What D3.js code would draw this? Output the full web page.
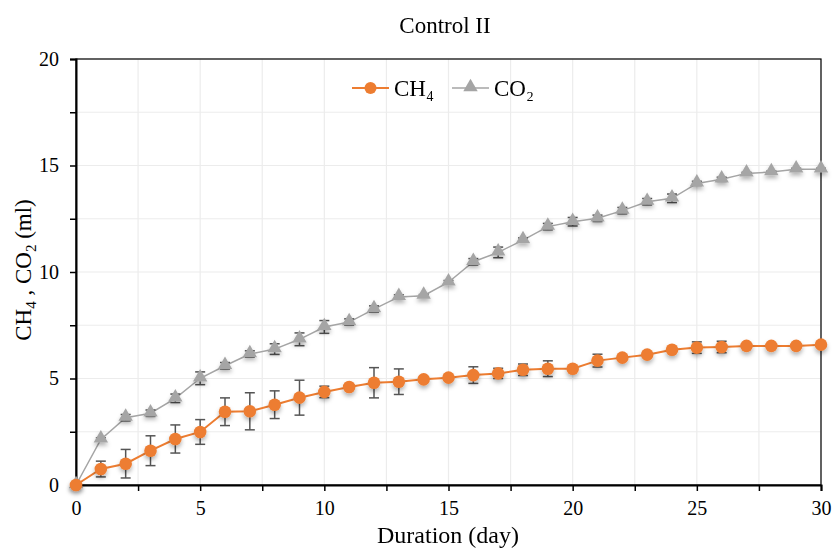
<!DOCTYPE html>
<html>
<head>
<meta charset="utf-8">
<script src="https://cdn.jsdelivr.net/npm/d3@7"></script>
<style>
  body { margin: 0; background: #fff; }
</style>
</head>
<body>
<svg id="chart" width="833" height="551"></svg>
<script>
const days = d3.range(0, 31);
const ch4 = [0, 0.75, 1.0, 1.61, 2.16, 2.49, 3.44, 3.46, 3.77, 4.1, 4.37, 4.6, 4.8, 4.85, 4.96, 5.04,
             5.16, 5.24, 5.41, 5.46, 5.46, 5.84, 5.98, 6.12, 6.35, 6.45, 6.48, 6.53, 6.53, 6.53, 6.59];
const ch4Err = [0, 0.37, 0.67, 0.7, 0.66, 0.58, 0.65, 0.87, 0.65, 0.82, 0.27, 0.1, 0.71, 0.6, 0, 0,
                0.39, 0.24, 0.27, 0.37, 0, 0.3, 0, 0, 0, 0.27, 0.27, 0, 0, 0, 0];
const co2 = [0, 2.14, 3.16, 3.37, 4.07, 5.01, 5.6, 6.15, 6.38, 6.84, 7.42, 7.65, 8.26, 8.83, 8.89, 9.52,
             10.48, 10.92, 11.5, 12.13, 12.36, 12.52, 12.88, 13.3, 13.46, 14.16, 14.35, 14.63, 14.69, 14.82, 14.82];
const co2Err = [0, 0.08, 0.15, 0.15, 0.2, 0.3, 0.15, 0.15, 0.25, 0.3, 0.3, 0.15, 0.15, 0.1, 0.05, 0.08,
                0.15, 0.25, 0.1, 0.15, 0.2, 0.15, 0.15, 0.15, 0.2, 0.1, 0.1, 0.05, 0.05, 0.05, 0.05];
const xTicks = [0, 5, 10, 15, 20, 25, 30];
const yTicks = [0, 5, 10, 15, 20];
const gridSteps = d3.range(0, 20.01, 2.5);
const xGridSteps = d3.range(0, 30.01, 2.5);

const FONT = "Liberation Serif";

const margin = {top: 59, right: 12, bottom: 66, left: 76};
const width = 821 - margin.left;
const height = 485 - margin.top;

const svg = d3.select("#chart");

// drop shadow for markers (excel-ish)
const defs = svg.append("defs");
const filt = defs.append("filter").attr("id", "shadow")
    .attr("x", "-50%").attr("y", "-50%").attr("width", "200%").attr("height", "250%");
filt.append("feDropShadow").attr("dx", 0).attr("dy", 3).attr("stdDeviation", 2)
    .attr("flood-color", "#000").attr("flood-opacity", 0.3);

const g = svg.append("g").attr("transform", `translate(${margin.left},${margin.top})`);

const x = d3.scaleLinear().domain([0, 30]).range([0, width]);
const y = d3.scaleLinear().domain([0, 20]).range([height, 0]);

// gridlines
g.append("g").selectAll("line.h").data(gridSteps).join("line")
    .attr("x1", 0).attr("x2", width)
    .attr("y1", d => y(d)).attr("y2", d => y(d))
    .attr("stroke", "#ececec").attr("stroke-width", 1.2);
g.append("g").selectAll("line.v").data(xGridSteps).join("line")
    .attr("y1", 0).attr("y2", height)
    .attr("x1", d => x(d)).attr("x2", d => x(d))
    .attr("stroke", "#ececec").attr("stroke-width", 1.2);

// frame
g.append("rect").attr("width", width).attr("height", height)
    .attr("fill", "none").attr("stroke", "#000").attr("stroke-width", 1.2);

// axes
const xAxis = g.append("g").attr("transform", `translate(0,${height})`)
    .call(d3.axisBottom(x).tickValues(xGridSteps).tickSize(6)
        .tickFormat(d => xTicks.includes(d) ? d : ""));
const yAxis = g.append("g")
    .call(d3.axisLeft(y).tickValues(gridSteps).tickSize(6)
        .tickFormat(d => yTicks.includes(d) ? d : ""));
[xAxis, yAxis].forEach(a => {
  a.attr("font-family", FONT).attr("font-size", 20);
  a.select(".domain").attr("stroke", "#000").attr("stroke-width", 2);
  a.selectAll(".tick line").attr("stroke", "#000").attr("stroke-width", 1.5);
  a.selectAll(".tick text").attr("fill", "#000");
});
xAxis.selectAll(".tick text").attr("dy", "1.05em");
yAxis.selectAll(".tick text").attr("x", -17).attr("dy", "0.32em");

// series
const series = [
  {name: "CO₂", vals: co2, err: co2Err, color: "#a5a5a5", marker: "tri"},
  {name: "CH₄", vals: ch4, err: ch4Err, color: "#ed7d31", marker: "circle"}
];

const line = d3.line().x((d, i) => x(days[i])).y(d => y(d));

series.forEach(s => {
  g.append("path").datum(s.vals)
    .attr("d", line).attr("fill", "none")
    .attr("stroke", s.color).attr("stroke-width", s.marker === "tri" ? 1.5 : 2);
});

// error bars
series.forEach(s => {
  const eb = g.append("g");
  const pts = days.map((d, i) => ({d: d, v: s.vals[i], e: s.err[i]})).filter(p => p.e > 0);
  eb.selectAll("line.bar").data(pts).join("line")
    .attr("x1", p => x(p.d)).attr("x2", p => x(p.d))
    .attr("y1", p => y(p.v + p.e)).attr("y2", p => y(p.v - p.e))
    .attr("stroke", "#555").attr("stroke-width", 1.5);
  [1, -1].forEach(sign => {
    eb.selectAll("line.cap" + sign).data(pts).join("line")
      .attr("x1", p => x(p.d) - 5).attr("x2", p => x(p.d) + 5)
      .attr("y1", p => y(p.v + sign * p.e)).attr("y2", p => y(p.v + sign * p.e))
      .attr("stroke", "#555").attr("stroke-width", 1.5);
  });
});

// markers
const triSym = d3.symbol().type(d3.symbolTriangle).size(90);
series.forEach(s => {
  const mg = g.append("g").attr("filter", "url(#shadow)");
  if (s.marker === "circle") {
    mg.selectAll("circle").data(s.vals).join("circle")
      .attr("cx", (d, i) => x(days[i])).attr("cy", d => y(d))
      .attr("r", 6.3).attr("fill", s.color);
  } else {
    mg.selectAll("path").data(s.vals).join("path")
      .attr("d", triSym)
      .attr("transform", (d, i) => `translate(${x(days[i])},${y(d) - 1})`)
      .attr("fill", s.color);
  }
});

// title
svg.append("text").attr("x", 445).attr("y", 33).attr("text-anchor", "middle")
    .attr("font-family", FONT).attr("font-size", 23).text("Control II");

// axis titles
svg.append("text").attr("x", 448).attr("y", 543).attr("text-anchor", "middle")
    .attr("font-family", FONT).attr("font-size", 24).text("Duration (day)");

const yl = svg.append("text").attr("transform", "translate(31,270) rotate(-90)")
    .attr("text-anchor", "middle").attr("font-family", FONT).attr("font-size", 23);
yl.append("tspan").text("CH");
yl.append("tspan").attr("font-size", 15).attr("dy", 5).text("4");
yl.append("tspan").attr("dy", -5).text(" , CO");
yl.append("tspan").attr("font-size", 15).attr("dy", 5).text("2");
yl.append("tspan").attr("dy", -5).text(" (ml)");

// legend
const legend = svg.append("g");
const legItems = [series[1], series[0]];
const legX = [352, 452];
legItems.forEach((s, i) => {
  const lg = legend.append("g").attr("transform", `translate(${legX[i]},88)`);
  lg.append("line").attr("x1", 0).attr("x2", 37).attr("y1", 0).attr("y2", 0)
    .attr("stroke", s.color).attr("stroke-width", s.marker === "tri" ? 1.5 : 2);
  if (s.marker === "circle") {
    lg.append("circle").attr("cx", 18.5).attr("cy", 0).attr("r", 6).attr("fill", s.color);
  } else {
    lg.append("path").attr("d", triSym).attr("transform", "translate(18.5,-1)").attr("fill", s.color);
  }
  lg.append("text").attr("x", 42).attr("y", 8).attr("font-family", FONT)
    .attr("font-size", 23).text(s.name);
});
</script>
</body>
</html>
